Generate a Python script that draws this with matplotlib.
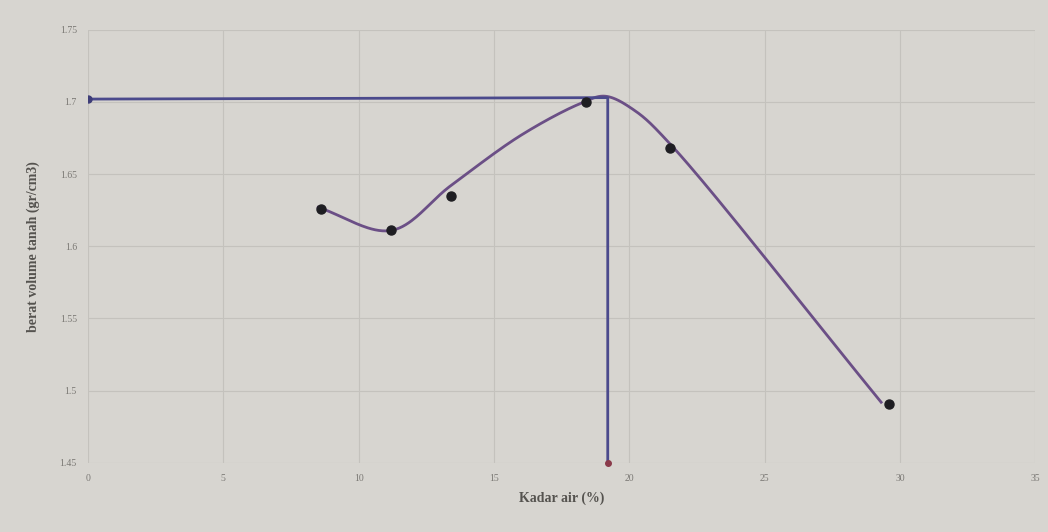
import numpy as np
import matplotlib.pyplot as plt

# titik hasil uji pemadatan
kadar_air = [8.6, 11.2, 13.4, 18.4, 21.5, 29.6]
berat_volume = [1.626, 1.611, 1.635, 1.700, 1.668, 1.491]

# kurva pemadatan (garis halus)
kurva_x = [8.5, 11.2, 13.4, 16.0, 18.2, 19.1, 20.2, 21.5, 29.3]
kurva_y = [1.627, 1.611, 1.642, 1.677, 1.699, 1.704, 1.694, 1.671, 1.492]

# garis bantu berat volume maksimum / kadar air optimum
garis_x = [0, 19.2, 19.2]
garis_y = [1.702, 1.703, 1.45]

xticks = [0, 5, 10, 15, 20, 25, 30, 35]
yticks = [1.45, 1.5, 1.55, 1.6, 1.65, 1.7, 1.75]
ytick_labels = ["1.45", "1.5", "1.55", "1.6", "1.65", "1.7", "1.75"]


def smooth(xs, ys, n=40):
    # catmull-rom sentripetal, dihitung di ruang yang dinormalisasi
    P = np.column_stack([np.asarray(xs) / 35 * 947, (np.asarray(ys) - 1.45) / 0.3 * 433])
    P = np.vstack([2 * P[0] - P[1], P, 2 * P[-1] - P[-2]])
    out = []
    for i in range(1, len(P) - 2):
        p0, p1, p2, p3 = P[i - 1], P[i], P[i + 1], P[i + 2]
        t0 = 0
        t1 = t0 + np.linalg.norm(p1 - p0) ** 0.5
        t2 = t1 + np.linalg.norm(p2 - p1) ** 0.5
        t3 = t2 + np.linalg.norm(p3 - p2) ** 0.5
        t = np.linspace(t1, t2, n)[:, None]
        a1 = (t1 - t) / (t1 - t0) * p0 + (t - t0) / (t1 - t0) * p1
        a2 = (t2 - t) / (t2 - t1) * p1 + (t - t1) / (t2 - t1) * p2
        a3 = (t3 - t) / (t3 - t2) * p2 + (t - t2) / (t3 - t2) * p3
        b1 = (t2 - t) / (t2 - t0) * a1 + (t - t0) / (t2 - t0) * a2
        b2 = (t3 - t) / (t3 - t1) * a2 + (t - t1) / (t3 - t1) * a3
        out.append((t2 - t) / (t2 - t1) * b1 + (t - t1) / (t2 - t1) * b2)
    out = np.vstack(out)
    return out[:, 0] / 947 * 35, out[:, 1] / 433 * 0.3 + 1.45


plt.rcParams['font.family'] = ['Liberation Serif', 'DejaVu Serif']
bg = '#d7d5d0'
fig = plt.figure(figsize=(10.48, 5.32), dpi=100, facecolor=bg)
ax = fig.add_axes([0.084, 0.130, 0.904, 0.814], facecolor=bg)

sx, sy = smooth(kurva_x, kurva_y)
ax.plot(sx, sy, color='#6b4f86', lw=2.0, zorder=3)

ax.plot(garis_x, garis_y, color='#4b4a8c', lw=2.0, zorder=3)
ax.plot(garis_x[0], garis_y[0], 'o', color='#3e3d78', ms=5, zorder=4)
ax.plot(garis_x[2], garis_y[2], 'o', color='#8a3a4a', ms=4, zorder=4, clip_on=False)

ax.plot(kadar_air, berat_volume, 'o', color='#1e1e22', ms=6.5, zorder=5)

ax.set_xlim(0, 35)
ax.set_ylim(1.45, 1.75)
ax.set_xticks(xticks)
ax.set_yticks(yticks)
ax.set_yticklabels(ytick_labels)
ax.tick_params(length=0, labelsize=7, colors='#7a7874', pad=8)
ax.grid(True, color='#c4c2bd', lw=0.8)
for s in ax.spines.values():
    s.set_visible(False)

ax.set_xlabel("Kadar air (%)", fontsize=10, color='#55534f', fontweight='bold', labelpad=6)
ax.set_ylabel("berat volume tanah (gr/cm3)", fontsize=10, color='#55534f', fontweight='bold', labelpad=14)

fig.savefig("out.png", dpi=100, facecolor=bg)
